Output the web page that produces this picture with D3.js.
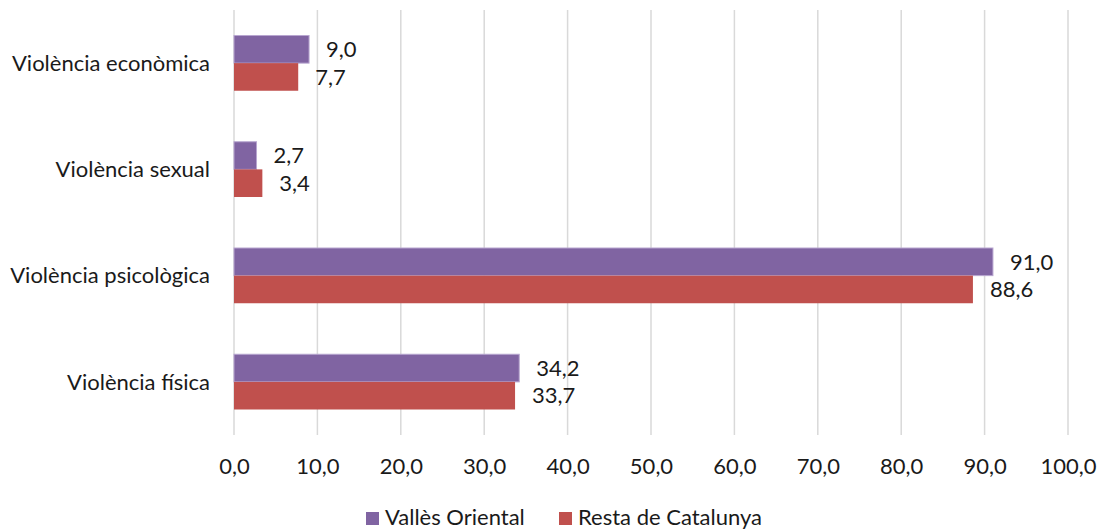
<!DOCTYPE html>
<html><head><meta charset="utf-8">
<script src="https://cdn.jsdelivr.net/npm/d3@7"></script>
<style>body{margin:0;background:#fff}svg{display:block}text{font-family:Lato, "Open Sans", sans-serif;fill:#1a1a1a}</style>
</head><body><svg id="c" width="1100" height="530"></svg>
<script>
const categories = ["Violència econòmica","Violència sexual","Violència psicològica","Violència física"];
const seriesNames = ["Vallès Oriental","Resta de Catalunya"];
const vallesOriental = [9.0, 2.7, 91.0, 34.2];
const restaCatalunya = [7.7, 3.4, 88.6, 33.7];
const xTicks = [0,10,20,30,40,50,60,70,80,90,100];
const colors = ["#8064a2","#c0504d"];
const strokes = ["#b8a6d0", "none"];

const svg = d3.select("#c");
const fs = 22;
const x = d3.scaleLinear().domain([0,100]).range([234,1068]);
const y = d3.scaleBand().domain(categories).range([10,435]).paddingInner(0.48).paddingOuter(0.24);
const ys = d3.scaleBand().domain(seriesNames).range([0,y.bandwidth()]);
const fmt = v => d3.format(".1f")(v).replace(".",",");

// grid
svg.append("g").selectAll("line").data(xTicks).join("line")
  .attr("x1",d=>x(d)).attr("x2",d=>x(d)).attr("y1",10).attr("y2",435)
  .attr("stroke","#d9d9d9").attr("stroke-width",1.5);

const seriesData = [vallesOriental, restaCatalunya];
seriesData.forEach((vals,si)=>{
  const g = svg.append("g");
  g.selectAll("rect").data(vals).join("rect")
    .attr("x",x(0)).attr("y",(d,i)=>y(categories[i])+ys(seriesNames[si]))
    .attr("width",d=>x(d)-x(0)).attr("height",ys.bandwidth())
    .attr("fill",colors[si])
    .attr("stroke",strokes[si]).attr("stroke-width",1);
  g.selectAll("text").data(vals).join("text")
    .attr("x",d=>x(d)+17).attr("y",(d,i)=>y(categories[i])+ys(seriesNames[si])+ys.bandwidth()/2)
    .attr("dy","0.35em").attr("font-size",fs).text(d=>fmt(d));
});

// category labels
svg.append("g").selectAll("text").data(categories).join("text")
  .attr("x",210).attr("y",d=>y(d)+y.bandwidth()/2).attr("dy","0.35em")
  .attr("text-anchor","end").attr("font-size",fs).text(d=>d);

// x axis
const ax = svg.append("g").attr("transform","translate(0,435)")
  .call(d3.axisBottom(x).tickValues(xTicks).tickSize(0).tickPadding(23).tickFormat(fmt));
ax.select(".domain").remove();
ax.selectAll("text").attr("font-size",fs).attr("font-family","Lato, 'Open Sans', sans-serif").attr("fill","#1a1a1a");

// legend
const legX = [366, 559];
const lg = svg.append("g");
seriesNames.forEach((s,i)=>{
  lg.append("rect").attr("x",legX[i]).attr("y",512).attr("width",13).attr("height",13).attr("fill",colors[i]);
  lg.append("text").attr("x",legX[i]+19).attr("y",524.5).attr("font-size",fs).text(s);
});
</script></body></html>
